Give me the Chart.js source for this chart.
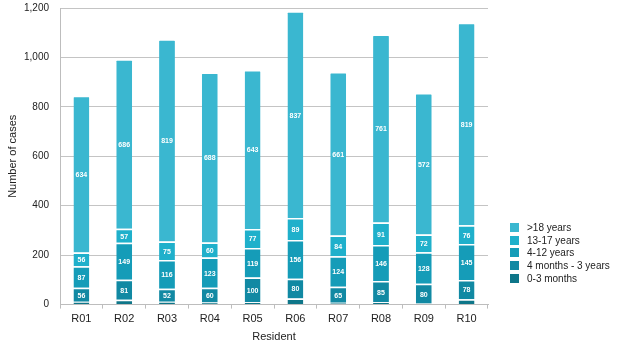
<!DOCTYPE html>
<html>
<head>
<meta charset="utf-8">
<script src="https://cdn.jsdelivr.net/npm/chart.js@4/dist/chart.umd.min.js"></script>
<style>
  body { margin: 0; background: #fff; }
  #wrap { position: relative; width: 628px; height: 348px; }
  #legend { position: absolute; left: 510px; top: 222px; font: 10px "Liberation Sans", Arial, sans-serif; color: #222; }
  #legend div { height: 12.7px; line-height: 12.7px; white-space: nowrap; }
  #legend span { display: inline-block; width: 9px; height: 9px; margin-right: 8px; vertical-align: -1px; }
</style>
</head>
<body>
<div id="wrap">
  <canvas id="grafico" width="628" height="348"></canvas>
  <div id="legend"></div>
</div>
<script>
const residentes = ["R01", "R02", "R03", "R04", "R05", "R06", "R07", "R08", "R09", "R10"];
const meses0a3 = [12, 20, 12, 8, 10, 25, 7, 10, 4, 22];
const meses4a3anos = [56, 81, 52, 60, 100, 80, 65, 85, 80, 78];
const anos4a12 = [87, 149, 116, 123, 119, 156, 124, 146, 128, 145];
const anos13a17 = [56, 57, 75, 60, 77, 89, 84, 91, 72, 76];
const mas18 = [634, 686, 819, 688, 643, 837, 661, 761, 572, 819];
const ticksY = [0, 200, 400, 600, 800, 1000, 1200];

const series = [
  { label: "0-3 months", data: meses0a3, color: "#0E7689", showLabel: false },
  { label: "4 months - 3 years", data: meses4a3anos, color: "#1189A3", showLabel: true },
  { label: "4-12 years", data: anos4a12, color: "#159CB8", showLabel: true },
  { label: "13-17 years", data: anos13a17, color: "#1FB0CB", showLabel: true },
  { label: ">18 years", data: mas18, color: "#3AB7D0", showLabel: true }
];

// etiquetas blancas dentro de cada segmento
const etiquetas = {
  id: "etiquetas",
  afterDatasetsDraw(chart) {
    const ctx = chart.ctx;
    ctx.save();
    ctx.fillStyle = "#fff";
    ctx.font = "bold 7px 'Liberation Sans', Arial, sans-serif";
    ctx.textAlign = "center";
    ctx.textBaseline = "middle";
    chart.data.datasets.forEach((ds, i) => {
      if (!series[i].showLabel) return;
      chart.getDatasetMeta(i).data.forEach((bar, j) => {
        const p = bar.getProps(["x", "y", "base"], true);
        ctx.fillText(ds.data[j], p.x, (p.y + p.base) / 2 + 1);
      });
    });
    ctx.restore();
  }
};

const datasets = series.map((s, i) => ({
  label: s.label,
  data: s.data,
  backgroundColor: s.color,
  borderColor: "#fff",
  borderWidth: { top: 1.5, bottom: 0, left: 0, right: 0 },
  borderSkipped: false,
  borderRadius: i === series.length - 1 ? { topLeft: 2, topRight: 2 } : 0,
  barPercentage: 0.37,
  categoryPercentage: 1
}));

new Chart(document.getElementById("grafico").getContext("2d"), {
  type: "bar",
  data: { labels: residentes, datasets: datasets },
  options: {
    responsive: false,
    animation: false,
    layout: { autoPadding: false, padding: { top: 8, right: 140, bottom: 4, left: 0 } },
    plugins: { legend: { display: false }, tooltip: { enabled: false } },
    scales: {
      x: {
        stacked: true,
        grid: { drawOnChartArea: false, color: "#bdbdbd", tickLength: 4 },
        border: { color: "#bdbdbd" },
        ticks: { color: "#222", font: { family: "'Liberation Sans', Arial", size: 11 }, padding: 4 },
        title: { display: true, text: "Resident", color: "#222", font: { family: "'Liberation Sans', Arial", size: 11 }, padding: { top: 1, bottom: 0 } }
      },
      y: {
        stacked: true,
        min: 0,
        max: 1200,
        afterBuildTicks(axis) { axis.ticks = ticksY.map(v => ({ value: v })); },
        afterFit(axis) {
          axis.width = 60;
          axis.paddingTop = 0;
          axis.paddingBottom = 0;
        },
        grid: { color: "#c4c4c4", tickLength: 0 },
        border: { color: "#bdbdbd" },
        ticks: { color: "#222", font: { family: "'Liberation Sans', Arial", size: 10 }, padding: 11 },
        title: { display: true, text: "Number of cases", color: "#222", font: { family: "'Liberation Sans', Arial", size: 11 }, padding: { top: 6, bottom: 0 } }
      }
    }
  },
  plugins: [etiquetas]
});

let leyenda = document.getElementById("legend");
series.slice().reverse().forEach((s) => {
  let fila = document.createElement("div");
  let cuadro = document.createElement("span");
  cuadro.style.background = s.color;
  fila.appendChild(cuadro);
  fila.appendChild(document.createTextNode(s.label));
  leyenda.appendChild(fila);
});
</script>
</body>
</html>
